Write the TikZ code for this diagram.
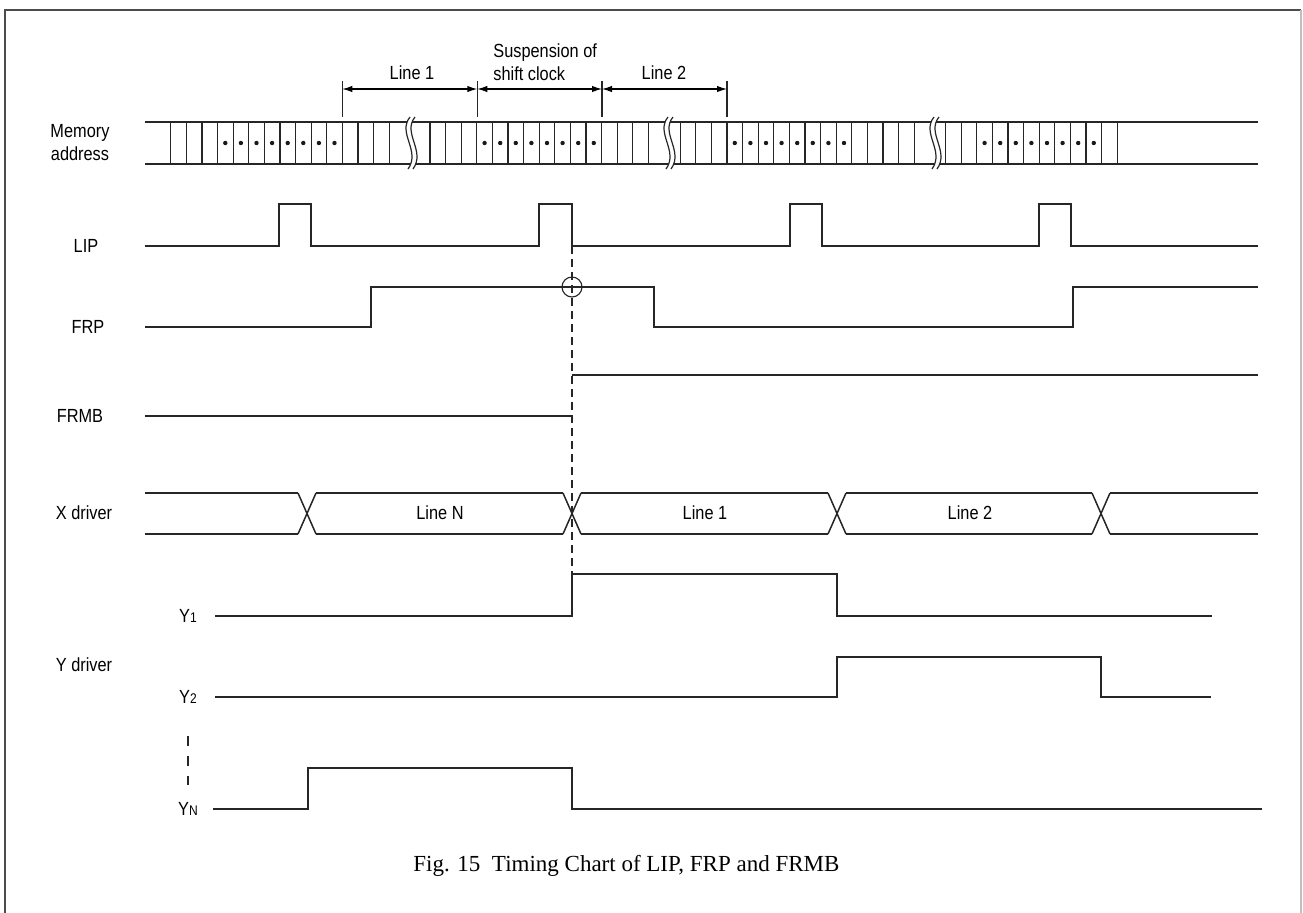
\documentclass[tikz,border=0pt]{standalone}
\usepackage{fontspec}
\newfontfamily\sigfont[FakeStretch=0.86]{Liberation Sans}
\newfontfamily\capfont{Liberation Serif}
\usetikzlibrary{arrows.meta}

\tikzset{
  wave/.style={line width=0.75pt,black!85},
  cell/.style={line width=0.6pt,black!85},
  dimline/.style={line width=0.55pt,black!85},
  dimarrow/.style={{Latex[length=5pt,width=3.2pt]}-{Latex[length=5pt,width=3.2pt]},line width=0.55pt},
  siglabel/.style={font=\sigfont\fontsize{9.5}{11.5}\selectfont,inner sep=0pt},
}
\newcommand{\sub}[1]{{\fontsize{7}{8}\selectfont #1}}

\begin{document}
\begin{tikzpicture}[x=0.5pt,y=-0.5pt]
\useasboundingbox (0,0) rectangle (1303,912);
% frame
\draw[black!70,line width=1pt] (5,916) -- (5,10) -- (1301,10);
\draw[black!25,line width=1pt] (1301,10) -- (1301,916);

% signal names
\node[siglabel,align=center] (lblmem) at (80,143) {Memory\\address};
\node[siglabel] (lbllip) at (86,246) {LIP};
\node[siglabel] (lblfrp) at (88,327) {FRP};
\node[siglabel] (lblfrmb) at (80,416) {FRMB};
\node[siglabel] (lblx) at (84,513) {X driver};
\node[siglabel] (lbly) at (84,665) {Y driver};
\node[siglabel] (lbly1) at (188,616) {Y\sub{1}};
\node[siglabel] (lbly2) at (188,697) {Y\sub{2}};
\node[siglabel] (lblyn) at (188,809) {Y\sub{N}};
\draw[dimline,dash pattern=on 5pt off 5pt] (lbly2.south) ++(0,32) coordinate (yd0) -- ++(0,49) coordinate (yd1);

% dimension marks above the memory bus
\coordinate (t1) at (342.3,89);
\coordinate (t2) at (477.3,89);
\coordinate (t3) at (602,89);
\coordinate (t4) at (727,89);
\foreach \t in {t1,t2,t3,t4} \draw[dimline] (\t) ++(0,-8) -- ++(0,36);
\draw[dimarrow] (t1) -- (t2);
\draw[dimarrow] (t2) -- (t3);
\draw[dimarrow] (t3) -- (t4);
\node[siglabel] (lblline1) at (412,73) {Line 1};
\node[siglabel,align=left,anchor=west] (lblsusp) at (493,62) {Suspension of\\shift clock};
\node[siglabel] (lblline2) at (664,73) {Line 2};

% Memory address bus
\draw[wave] (145,122) -- (1258,122);
\draw[wave] (145,164) -- (1258,164);
\foreach \s/\n in {170.7/14,430/14,680.2/15,945.6/11}
  \foreach \k in {0,...,\n} \draw[cell] (\s+15.6*\k,122) -- (\s+15.6*\k,164);
\foreach \s in {217.5,476.8,727,976.8}
  \foreach \k in {0,...,7} \fill[black!90] (\s+7.8+15.6*\k,143) circle[radius=2.2];
% breaks
\foreach \b in {407,665,931} {
  \fill[white] (\b+3,117) .. controls (\b-10,133) and (\b+14,151) .. (\b+1,169)
    -- (\b+6,169) .. controls (\b+19,151) and (\b-5,133) .. (\b+8,117) -- cycle;
  \draw[cell] (\b+3,117) .. controls (\b-10,133) and (\b+14,151) .. (\b+1,169);
  \draw[cell] (\b+8,117) .. controls (\b-5,133) and (\b+19,151) .. (\b+6,169);
}

% LIP
\draw[wave] (145,246) -- (279,246) -- (279,204) -- (311,204) -- (311,246)
  -- (539,246) -- (539,204) -- (572,204) -- (572,246)
  -- (790,246) -- (790,204) -- (822,204) -- (822,246)
  -- (1039,246) -- (1039,204) -- (1071,204) -- (1071,246) -- (1258,246);

% FRP
\draw[wave] (145,327) -- (371,327) -- (371,287) -- (654,287) -- (654,327)
  -- (1073,327) -- (1073,287) -- (1258,287);
\draw[dimline] (572,287) circle[radius=10];

% FRMB
\draw[wave] (145,416) -- (572,416);
\draw[wave] (572,375) -- (1258,375);

% X driver
\foreach \a/\b in {145/298,316/563,581/828,846/1092,1110/1258} {
  \draw[wave] (\a,493) -- (\b,493);
  \draw[wave] (\a,534) -- (\b,534);
}
\foreach \c in {307,572,837,1101} {
  \draw[wave] (\c-9,493) -- (\c+9,534);
  \draw[wave] (\c-9,534) -- (\c+9,493);
}
\node[siglabel] (xln) at (440,513) {Line N};
\node[siglabel] (xl1) at (705,513) {Line 1};
\node[siglabel] (xl2) at (970,513) {Line 2};

% Y driver
\draw[wave] (215,616) -- (572,616) -- (572,574) -- (837,574) -- (837,616) -- (1212,616);
\draw[wave] (215,697) -- (837,697) -- (837,657) -- (1101,657) -- (1101,697) -- (1211,697);
\draw[wave] (213,809) -- (308,809) -- (308,768) -- (572,768) -- (572,809) -- (1262,809);

% suspension edge
\draw[dimline,dash pattern=on 4pt off 2.5pt] (572,246) -- (572,574);

% caption
\node[font=\capfont\fontsize{11.5}{13}\selectfont,anchor=base west,inner sep=0pt] (caption) at (413,871)
  {Fig. 15\ \ Timing Chart of LIP, FRP and FRMB};
\end{tikzpicture}
\end{document}
